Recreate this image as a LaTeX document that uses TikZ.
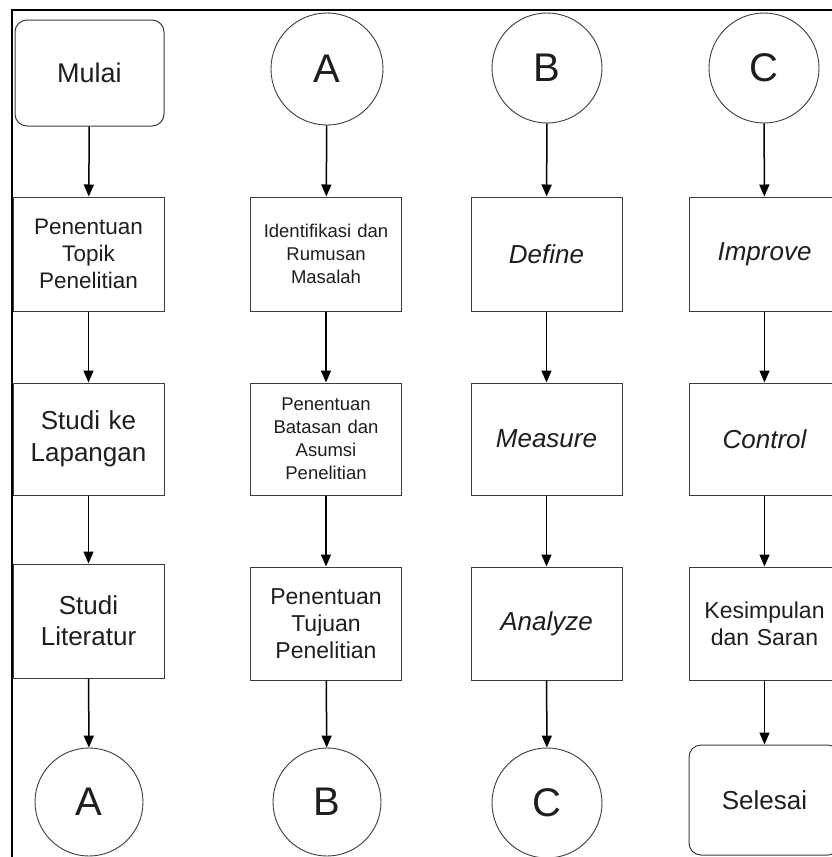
\documentclass[tikz,border=0pt]{standalone}
\usepackage{fontspec}
\setmainfont{Liberation Sans}
\usetikzlibrary{arrows.meta}
\definecolor{boxline}{HTML}{3C3C3C}
\definecolor{txt}{HTML}{1E1E1E}
\tikzset{
  stepbox/.style={draw=boxline, line width=1pt, minimum width=151pt, minimum height=114pt, align=center, text=txt, inner sep=0pt, text width=149pt},
  endbox/.style={stepbox, rounded corners=12pt},
  conn/.style={draw=boxline, circle, line width=0.9pt, inner sep=0pt, text=txt, font=\fontsize{40}{44}\selectfont},
  flow/.style={draw=black, line width=1.5pt, -{Triangle[width=10pt,length=12pt]}},
  fa/.style={font=\fontsize{22.5}{27}\selectfont},
  fb/.style={font=\fontsize{26}{32}\selectfont},
  fc/.style={font=\fontsize{18.5}{23}\selectfont},
  fd/.style={font=\fontsize{26}{31}\selectfont},
  fe/.style={font=\fontsize{23}{27}\selectfont},
  fi/.style={font=\fontsize{26}{30}\selectfont\itshape},
}
\begin{document}
\begin{tikzpicture}[x=1pt,y=-1pt]
\useasboundingbox (0,0) rectangle (832,857);
\fill[white] (0,0) rectangle (832,857);
\draw[line width=2pt] (11.5,857) -- (11.5,10) -- (832,10);
% column 1
\node[endbox, fb, font=\fontsize{27}{32}\selectfont, minimum width=145pt, minimum height=106pt] (mulai) at (89.5,73) {Mulai};
\node[stepbox, fa] (topik) at (88.5,254) {Penentuan\\Topik\\Penelitian};
\node[stepbox, fb, minimum height=112pt] (studi) at (88.5,439) {Studi ke\\Lapangan};
\node[stepbox, fd] (lit) at (88.5,621) {Studi\\Literatur};
\node[conn, minimum size=108pt] (a2) at (89,802) {A};
% column 2
\node[conn, minimum size=112pt] (a1) at (327,69) {A};
\node[stepbox, fc] (ident) at (326,254) {Identifikasi dan\\Rumusan\\Masalah};
\node[stepbox, fc, minimum height=112pt] (batas) at (326,439) {Penentuan\\Batasan dan\\Asumsi\\Penelitian};
\node[stepbox, fe, minimum height=113pt] (tujuan) at (326,623.5) {Penentuan\\Tujuan\\Penelitian};
\node[conn, minimum size=108pt] (b2) at (327,802) {B};
% column 3
\node[conn, minimum size=110pt] (b1) at (547,68) {B};
\node[stepbox, fi] (define) at (546.5,254) {Define};
\node[stepbox, fi, minimum height=112pt] (measure) at (546.5,439) {Measure};
\node[stepbox, fi, minimum height=113pt] (analyze) at (546.5,623.5) {Analyze};
\node[conn, minimum size=110pt] (c2) at (547,803) {C};
% column 4
\node[conn, minimum size=110pt] (c1) at (764,68) {C};
\node[stepbox, fi] (improve) at (764.5,254) {Improve};
\node[stepbox, fi, minimum height=112pt] (control) at (764.5,439) {Control};
\node[stepbox, fe, minimum height=113pt] (kesim) at (764.5,623.5) {Kesimpulan\\dan Saran};
\node[endbox, fb, minimum height=110pt] (selesai) at (764.5,800) {Selesai};
% connectors
\draw[flow] (mulai) -- (topik);
\draw[flow] (topik) -- (studi);
\draw[flow] (studi) -- (lit);
\draw[flow] (lit) -- (a2);
\draw[flow] (a1) -- (ident);
\draw[flow] (ident) -- (batas);
\draw[flow] (batas) -- (tujuan);
\draw[flow] (tujuan) -- (b2);
\draw[flow] (b1) -- (define);
\draw[flow] (define) -- (measure);
\draw[flow] (measure) -- (analyze);
\draw[flow] (analyze) -- (c2);
\draw[flow] (c1) -- (improve);
\draw[flow] (improve) -- (control);
\draw[flow] (control) -- (kesim);
\draw[flow] (kesim) -- (selesai);
\end{tikzpicture}
\end{document}
